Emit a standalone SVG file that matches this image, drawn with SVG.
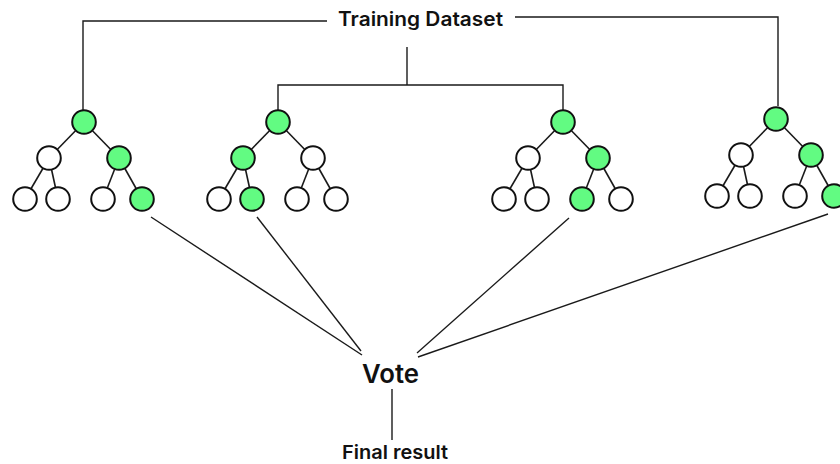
<svg xmlns="http://www.w3.org/2000/svg" width="840" height="464" viewBox="0 0 840 464">
  <style>
    .bg { fill: #ffffff; }
    .wire { fill: none; stroke: #1a1a1a; stroke-width: 1.4; }
    .edge { stroke: #1a1a1a; stroke-width: 1.6; }
    .n { stroke: #111111; stroke-width: 2; fill: #ffffff; }
    .g { fill: #62fb82; }
    .lbl { font-family: Inter, "Liberation Sans", sans-serif; font-weight: 600; fill: #111111; text-anchor: middle; }
  </style>
  <defs>
    <!-- shared edges of one three-level binary tree, root at origin -->
    <g id="tree-edges">
      <line class="edge" x1="0" y1="0" x2="-35" y2="36"/>
      <line class="edge" x1="0" y1="0" x2="35" y2="36"/>
      <line class="edge" x1="-35" y1="36" x2="-59" y2="77"/>
      <line class="edge" x1="-35" y1="36" x2="-26" y2="77"/>
      <line class="edge" x1="35" y1="36" x2="19" y2="77"/>
      <line class="edge" x1="35" y1="36" x2="58" y2="77"/>
    </g>
  </defs>
  <rect class="bg" x="0" y="0" width="840" height="464"/>

  <g id="connectors">
    <!-- dataset to trees -->
    <polyline class="wire" points="327,21 83,21 83,110"/>
    <polyline class="wire" points="515,17 778,17 778,106"/>
    <line class="wire" x1="407" y1="47" x2="407" y2="85"/>
    <polyline class="wire" points="278,110 278,85 563,85 563,110"/>
    <!-- voting paths -->
    <line class="wire" x1="151" y1="217" x2="362" y2="355"/>
    <line class="wire" x1="257" y1="217" x2="361" y2="351"/>
    <line class="wire" x1="569" y1="218" x2="417" y2="353"/>
    <line class="wire" x1="828" y1="214" x2="418" y2="357"/>
    <line class="wire" x1="392" y1="389" x2="392" y2="440"/>
  </g>

  <g id="dataset">
    <text class="lbl" x="420.5" y="26" font-size="19.5" textLength="165" lengthAdjust="spacingAndGlyphs">Training Dataset</text>
  </g>

  <g id="tree1" transform="translate(84,122)">
    <use href="#tree-edges"/>
    <circle class="n g" cx="0" cy="0" r="11.8"/>
    <circle class="n" cx="-35" cy="36" r="11.8"/>
    <circle class="n g" cx="35" cy="36" r="11.8"/>
    <circle class="n" cx="-59" cy="77" r="11.8"/>
    <circle class="n" cx="-26" cy="77" r="11.8"/>
    <circle class="n" cx="19" cy="77" r="11.8"/>
    <circle class="n g" cx="58" cy="77" r="11.8"/>
  </g>

  <g id="tree2" transform="translate(278,122)">
    <use href="#tree-edges"/>
    <circle class="n g" cx="0" cy="0" r="11.8"/>
    <circle class="n g" cx="-35" cy="36" r="11.8"/>
    <circle class="n" cx="35" cy="36" r="11.8"/>
    <circle class="n" cx="-59" cy="77" r="11.8"/>
    <circle class="n g" cx="-26" cy="77" r="11.8"/>
    <circle class="n" cx="19" cy="77" r="11.8"/>
    <circle class="n" cx="58" cy="77" r="11.8"/>
  </g>

  <g id="tree3" transform="translate(563,122)">
    <use href="#tree-edges"/>
    <circle class="n g" cx="0" cy="0" r="11.8"/>
    <circle class="n" cx="-35" cy="36" r="11.8"/>
    <circle class="n g" cx="35" cy="36" r="11.8"/>
    <circle class="n" cx="-59" cy="77" r="11.8"/>
    <circle class="n" cx="-26" cy="77" r="11.8"/>
    <circle class="n g" cx="19" cy="77" r="11.8"/>
    <circle class="n" cx="58" cy="77" r="11.8"/>
  </g>

  <g id="tree4" transform="translate(776,119)">
    <use href="#tree-edges"/>
    <circle class="n g" cx="0" cy="0" r="11.8"/>
    <circle class="n" cx="-35" cy="36" r="11.8"/>
    <circle class="n g" cx="35" cy="36" r="11.8"/>
    <circle class="n" cx="-59" cy="77" r="11.8"/>
    <circle class="n" cx="-26" cy="77" r="11.8"/>
    <circle class="n" cx="19" cy="77" r="11.8"/>
    <circle class="n g" cx="58" cy="77" r="11.8"/>
  </g>

  <g id="vote">
    <text class="lbl" x="390.5" y="383" font-size="26" textLength="57" lengthAdjust="spacingAndGlyphs">Vote</text>
  </g>

  <g id="final-result">
    <text class="lbl" x="395" y="459" font-size="19" textLength="106" lengthAdjust="spacingAndGlyphs">Final result</text>
  </g>
</svg>
